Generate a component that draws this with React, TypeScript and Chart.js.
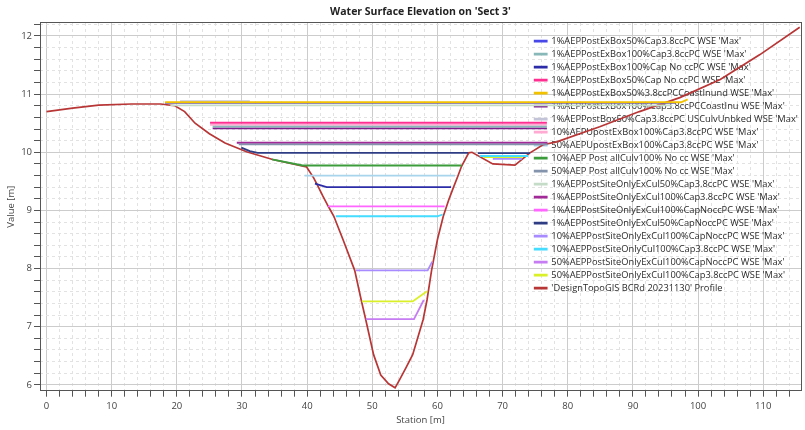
import React, { useEffect, useRef } from 'react';
import { Chart, registerables } from 'chart.js';

Chart.register(...registerables);

const FONT = "'Open Sans', 'Noto Sans', sans-serif";

const chartTitle = "Water Surface Elevation on 'Sect 3'";
const xTitle = 'Station [m]';
const yTitle = 'Value [m]';

const seriesNames = [
  "1%AEPPostExBox50%Cap3.8ccPC WSE 'Max'",
  "1%AEPPostExBox100%Cap3.8ccPC WSE 'Max'",
  "1%AEPPostExBox100%Cap No ccPC WSE 'Max'",
  "1%AEPPostExBox50%Cap No ccPC WSE 'Max'",
  "1%AEPPostExBox50%3.8ccPCCoastInund WSE 'Max'",
  "1%AEPPostExBox100%Cap3.8ccPCCoastInu WSE 'Max'",
  "1%AEPPostBox50%Cap3.8ccPC USCulvUnbked WSE 'Max'",
  "10%AEPUpostExBox100%Cap3.8ccPC WSE 'Max'",
  "50%AEPUpostExBox100%Cap3.8ccPC WSE 'Max'",
  "10%AEP Post allCulv100% No cc WSE 'Max'",
  "50%AEP Post allCulv100% No cc WSE 'Max'",
  "1%AEPPostSiteOnlyExCul50%Cap3.8ccPC WSE 'Max'",
  "1%AEPPostSiteOnlyExCul100%Cap3.8ccPC WSE 'Max'",
  "1%AEPPostSiteOnlyExCul100%CapNoccPC WSE 'Max'",
  "1%AEPPostSiteOnlyExCul50%CapNoccPC WSE 'Max'",
  "10%AEPPostSiteOnlyExCul100%CapNoccPC WSE 'Max'",
  "10%AEPPostSiteOnlyCul100%Cap3.8ccPC WSE 'Max'",
  "50%AEPPostSiteOnlyExCul100%CapNoccPC WSE 'Max'",
  "50%AEPPostSiteOnlyExCul100%Cap3.8ccPC WSE 'Max'",
];
const profileName = "'DesignTopoGIS BCRd 20231130' Profile";

const seriesColors = [
  '#4848e8', '#88b8b8', '#2c2ca8', '#ff2f92', '#f2c200', '#7e1f8e', '#c4c4d8',
  '#ffaad2', '#a8d4ec', '#3c9c3c', '#8494ac', '#c4dcc8', '#a22a98', '#ff66ff',
  '#2e3c84', '#a88cff', '#44dcff', '#c67cf2', '#daf028',
];
const profileColor = '#b83636';

// [station, elevation] pairs; null elevation = gap
const wse01 = [[18.2, 10.85], [96.5, 10.85]];
const wse02 = [[25.5, 10.44], [76.8, 10.44]];
const wse03 = [[41.2, 9.46], [43.0, 9.40], [62.1, 9.40]];
const wse04 = [[25.1, 10.508], [76.8, 10.508]];
const wse05 = [[18.2, 10.86], [97.4, 10.86], [98.4, 10.91]];
const wse06 = [[25.5, 10.41], [76.8, 10.41]];
const wse07 = [[20.5, 10.88], [31.2, 10.88]];
const wse08 = [[25.1, 10.47], [76.8, 10.47]];
const wse09 = [[39.6, 9.60], [62.7, 9.60]];
const wse10 = [[34.6, 9.876], [39.3, 9.773], [63.7, 9.773]];
const wse11 = [[29.5, 10.135], [76.9, 10.135]];
const wse12 = [[19.0, 10.806], [96.0, 10.806]];
const wse13 = [[29.2, 10.164], [76.9, 10.164]];
const wse14 = [[43.2, 9.07], [61.1, 9.07]];
const wse15 = [[29.9, 10.08], [31.2, 10.02], [32.4, 9.99], [64.7, 9.99], [65.5, null], [66.2, 9.985], [74.2, 9.985]];
const wse16 = [[47.5, 7.97], [58.5, 7.97], [59.2, 8.12], [63.0, null], [68.5, 9.888], [73.0, 9.888]];
const wse17 = [[44.4, 8.90], [60.0, 8.90], [60.8, 8.93], [63.0, null], [66.5, 9.936], [73.9, 9.936]];
const wse18 = [[49.0, 7.13], [56.4, 7.13], [57.9, 7.46]];
const wse19 = [[48.4, 7.435], [56.2, 7.435], [58.4, 7.61], [63.0, null], [67.0, 9.916], [73.1, 9.916]];

const wseSeries = [
  wse01, wse02, wse03, wse04, wse05, wse06, wse07, wse08, wse09, wse10,
  wse11, wse12, wse13, wse14, wse15, wse16, wse17, wse18, wse19,
];

const terrainStation = [
  0, 4, 8, 13, 17.5, 19.7, 21.2, 22.8, 25.0, 27.4, 30.7, 34.7, 39.9, 41.0,
  41.6, 42.4, 43.2, 44.1, 45.5, 47.3, 48.3, 49.0, 50.2, 51.3, 52.5, 53.5, 54.2, 55.2, 56.2,
  57.8, 58.4, 59.1, 60.0, 60.9, 61.7, 62.4, 63.1, 63.7, 64.8, 65.3, 68.5, 71.9,
  74.2, 76.2, 78.3, 84.9, 91.0, 97.2, 103.4, 109.5, 115.6,
];
const terrainElevation = [
  10.70, 10.76, 10.81, 10.83, 10.83, 10.80, 10.70, 10.50, 10.32, 10.16, 10.01, 9.876, 9.75, 9.56,
  9.43, 9.25, 9.08, 8.90, 8.50, 7.97, 7.46, 7.12, 6.52, 6.17, 6.02, 5.95, 6.09, 6.30, 6.52,
  7.12, 7.46, 7.97, 8.50, 8.90, 9.17, 9.38, 9.58, 9.76, 9.99, 10.0, 9.80, 9.78,
  9.99, 10.13, 10.18, 10.44, 10.70, 10.94, 11.25, 11.68, 12.15,
];

const isMultiple = (v: number, step: number) => Math.abs(v / step - Math.round(v / step)) < 1e-6;

export default function App() {
  const ref = useRef<HTMLCanvasElement | null>(null);

  useEffect(() => {
    if (!ref.current) return;
    const datasets: any[] = wseSeries.map((pts, i) => ({
      label: seriesNames[i],
      data: pts.map(([x, y]) => ({ x, y })),
      borderColor: seriesColors[i],
      backgroundColor: seriesColors[i],
      borderWidth: 1.8,
      pointRadius: 0,
      spanGaps: false,
      order: i === 4 ? -1 : 0,
      xAxisID: 'x',
      yAxisID: 'y',
    }));
    datasets.push({
      label: profileName,
      data: terrainStation.map((x, i) => ({ x, y: terrainElevation[i] })),
      borderColor: profileColor,
      backgroundColor: profileColor,
      borderWidth: 1.7,
      pointRadius: 0,
      xAxisID: 'x',
      yAxisID: 'y',
    });

    const legendPlace = {
      id: 'legendPlace',
      afterLayout(chart: any) {
        const lg = chart.legend;
        const ca = chart.chartArea;
        if (!lg || !ca) return;
        lg.left = ca.right - 270;
        lg.right = ca.right;
        lg.top = ca.top + 10.2;
        lg.bottom = ca.bottom;
      },
    };

    const tickFont = { family: FONT, size: 9.5 };
    const majorGrid = '#cccccc';
    const minorGrid = '#e2e2e2';
    const axisColor = '#555555';

    const chart = new Chart(ref.current, {
      type: 'line',
      data: { datasets },
      plugins: [legendPlace],
      options: {
        animation: false,
        responsive: false,
        maintainAspectRatio: false,
        layout: { padding: { left: 0, right: 4, top: 0, bottom: 0 } },
        plugins: {
          title: {
            display: true,
            text: chartTitle,
            fullSize: false,
            color: '#222',
            font: { family: FONT, size: 10.5, weight: 'bold' },
            padding: { top: 6, bottom: 4 },
          },
          legend: {
            position: 'chartArea' as any,
            align: 'start',
            labels: {
              boxWidth: 12,
              boxHeight: 1,
              padding: 3.7,
              color: '#2a2a2a',
              font: { family: FONT, size: 9.3 },
              sort: (a: any, b: any) => a.datasetIndex - b.datasetIndex,
            },
          },
          tooltip: { enabled: false },
        },
        scales: {
          x: {
            type: 'linear',
            position: 'bottom',
            min: -1,
            max: 115.8,
            afterFit: (s: any) => { s.height = 39.3; },
            ticks: {
              stepSize: 2,
              autoSkip: false,
              maxRotation: 0,
              includeBounds: false,
              padding: 4,
              color: '#444',
              font: tickFont,
              callback: (v: any) => (isMultiple(Number(v), 10) ? String(Math.round(Number(v))) : ''),
            },
            grid: {
              color: (c: any) => (c.tick && isMultiple(c.tick.value, 10) ? majorGrid : 'rgba(0,0,0,0)'),
              tickColor: axisColor,
              tickLength: 6,
              lineWidth: 1,
            },
            border: { display: true, color: axisColor, width: 1 },
            title: {
              display: true,
              text: xTitle,
              color: '#444',
              font: { family: FONT, size: 9.5 },
              padding: { top: 2, bottom: 4 },
            },
          },
          x2: {
            type: 'linear',
            position: 'top',
            min: -1,
            max: 115.8,
            ticks: { display: false, stepSize: 2, includeBounds: false },
            grid: {
              drawTicks: false,
              color: (c: any) => (c.tick && !isMultiple(c.tick.value, 10) ? minorGrid : 'rgba(0,0,0,0)'),
            },
            border: { display: true, color: axisColor, width: 1, dash: [3, 3] },
          },
          y: {
            type: 'linear',
            position: 'left',
            min: 5.9,
            max: 12.23,
            afterFit: (s: any) => { s.width = 40; },
            ticks: {
              stepSize: 0.2,
              autoSkip: false,
              includeBounds: false,
              padding: 2,
              color: '#444',
              font: tickFont,
              callback: (v: any) => (isMultiple(Number(v), 1) ? String(Math.round(Number(v))) : ''),
            },
            grid: {
              color: (c: any) => (c.tick && isMultiple(c.tick.value, 1) ? majorGrid : 'rgba(0,0,0,0)'),
              tickColor: axisColor,
              tickLength: 6,
            },
            border: { display: true, color: axisColor, width: 1 },
            title: {
              display: true,
              text: yTitle,
              color: '#444',
              font: { family: FONT, size: 9.5 },
              padding: { top: 6, bottom: 2 },
            },
          },
          y2: {
            type: 'linear',
            position: 'right',
            min: 5.9,
            max: 12.23,
            ticks: { display: false, stepSize: 0.2, includeBounds: false },
            grid: {
              drawTicks: false,
              color: (c: any) => (c.tick && !isMultiple(c.tick.value, 1) ? minorGrid : 'rgba(0,0,0,0)'),
            },
            border: { display: true, color: axisColor, width: 1, dash: [3, 3] },
          },
        },
      } as any,
    });
    return () => chart.destroy();
  }, []);

  return (
    <div style={{ position: 'absolute', left: 0, top: 0, width: 805, height: 430, background: '#fff' }}>
      <canvas ref={ref} width={805} height={430} style={{ display: 'block' }} />
    </div>
  );
}
